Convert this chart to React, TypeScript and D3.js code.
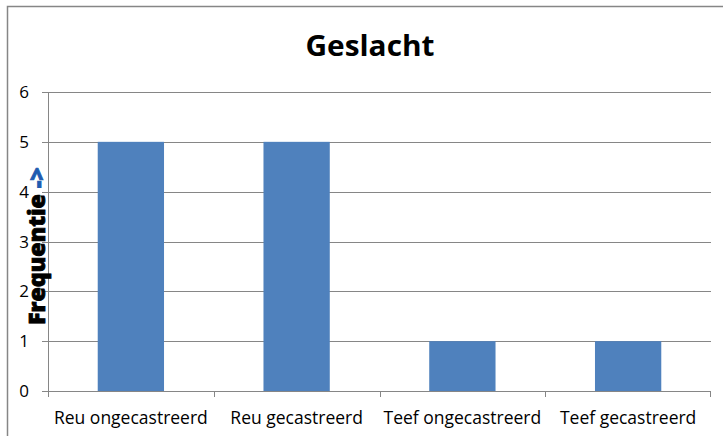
import React from "react";
import * as d3 from "d3";

const categories = ["Reu ongecastreerd", "Reu gecastreerd", "Teef ongecastreerd", "Teef gecastreerd"];
const values = [5, 5, 1, 1];
const yTicks = [0, 1, 2, 3, 4, 5, 6];
const title = "Geslacht";
const yTitle = "Frequentie ";
const yArrow = "->";

export default function App() {
  const W = 723, H = 436;
  const left = 48, right = 711, top = 92, bottom = 391;
  const x = d3.scaleBand<string>().domain(categories).range([left, right]).paddingInner(0.6).paddingOuter(0.3);
  const xb = d3.scaleBand<string>().domain(categories).range([left, right]);
  const y = d3.scaleLinear().domain([0, 6]).range([bottom, top]);
  const grid = "#868686";
  const font = "'Open Sans', 'DejaVu Sans', sans-serif";
  return (
    <svg width={W} height={H} style={{ position: "absolute", left: 0, top: 0 }}>
      <rect x={0} y={0} width={W} height={H} fill="#fff" />
      <rect x={7.5} y={6.5} width={W + 10} height={H + 10} fill="none" stroke={grid} strokeWidth={1.5} />
      <text x={370} y={56} textAnchor="middle" fontFamily={font} fontWeight="bold" fontSize={28} fill="#000" textLength={129} lengthAdjust="spacingAndGlyphs">{title}</text>
      {yTicks.map((t) => (
        <g key={t}>
          <line x1={left - 6} x2={right} y1={Math.round(y(t)) + 0.5} y2={Math.round(y(t)) + 0.5} stroke={grid} strokeWidth={1} />
          <text x={29} y={y(t) + 6} textAnchor="end" fontFamily={font} fontSize={17} fill="#000">{t}</text>
        </g>
      ))}
      <line x1={left + 0.5} x2={left + 0.5} y1={top} y2={bottom} stroke={grid} strokeWidth={1} />
      {categories.map((c, i) => (
        <line key={"t" + i} x1={Math.round(xb(c)!) + 0.5} x2={Math.round(xb(c)!) + 0.5} y1={bottom} y2={bottom + 6} stroke={grid} />
      ))}
      <line x1={right - 0.5} x2={right - 0.5} y1={bottom} y2={bottom + 6} stroke={grid} />
      {categories.map((c, i) => (
        <rect key={c} x={x(c)!} y={y(values[i])} width={x.bandwidth()} height={y(0) - y(values[i])} fill="#4F81BD" />
      ))}
      {categories.map((c) => (
        <text key={"l" + c} x={xb(c)! + xb.bandwidth() / 2} y={424} textAnchor="middle" fontFamily={font} fontSize={17.5} fill="#000">{c}</text>
      ))}
      <text transform={`translate(45, 246) rotate(-90)`} textAnchor="middle" fontFamily={font} fontWeight={800} fontSize={22} fill="#000" stroke="#000" strokeWidth={0.8} textLength={158} lengthAdjust="spacingAndGlyphs">
        {yTitle}<tspan fill="#1F5BB0" stroke="#1F5BB0">{yArrow}</tspan>
      </text>
    </svg>
  );
}
